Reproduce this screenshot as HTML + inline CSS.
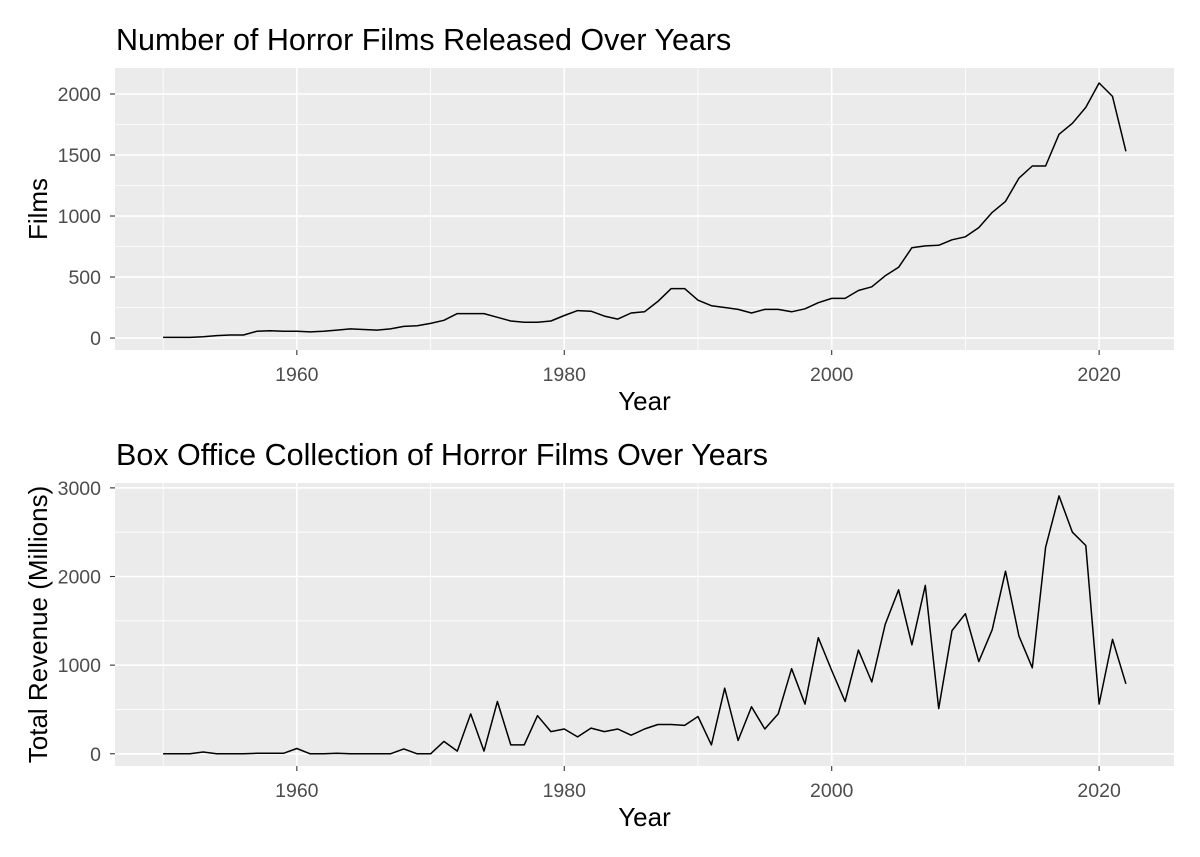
<!DOCTYPE html>
<html><head><meta charset="utf-8"><style>
body{margin:0;background:#fff;}
svg{display:block;font-family:"Liberation Sans",sans-serif;}
</style></head><body>
<svg id="c" width="1200" height="857"></svg>
<script>
const years=[];for(let y=1950;y<=2022;y++)years.push(y);
const films=[5,5,5,10,20,25,25,55,60,55,55,50,55,65,75,70,65,75,95,100,120,145,200,200,200,170,140,130,130,140,185,225,220,180,155,205,215,300,405,405,310,265,250,235,205,235,235,215,240,290,325,325,390,420,510,580,740,755,760,805,830,905,1030,1120,1310,1410,1410,1670,1760,1890,2090,1980,1530];
const revenue=[0,0,0,20,0,0,0,5,5,5,60,0,0,5,0,0,0,0,55,0,0,140,30,450,30,590,100,100,430,250,280,190,290,250,280,210,280,330,330,320,420,100,740,150,530,280,450,960,560,1310,940,590,1170,810,1460,1850,1230,1900,510,1390,1580,1040,1400,2060,1330,970,2330,2910,2500,2350,560,1290,790];
const xTicks=[1960,1980,2000,2020];
const filmTicks=[0,500,1000,1500,2000];
const revTicks=[0,1000,2000,3000];
const NS="http://www.w3.org/2000/svg";
const svg=document.getElementById('c');
function el(t,a,p){const e=document.createElementNS(NS,t);for(const k in a)e.setAttribute(k,a[k]);(p||svg).appendChild(e);return e;}
function panel(o){
  const {L,R,T,B,ymin,ymax,vals,ticks,title,ylab,name}=o;
  const g=el('g',{});
  
  
  const X=v=>L+(v-1946.4)/(2025.6-1946.4)*(R-L);
  const Y=v=>B-(v-ymin)/(ymax-ymin)*(B-T);
  const bg=el('rect',{x:L,y:T,width:R-L,height:B-T,fill:'#ebebeb'},g);
  
  for(let i=0;i<ticks.length-1;i++){const m=(ticks[i]+ticks[i+1])/2;el('line',{x1:L,x2:R,y1:Y(m),y2:Y(m),stroke:'#fff','stroke-width':0.8},g);}
  for(const m of [1950,1970,1990,2010])el('line',{x1:X(m),x2:X(m),y1:T,y2:B,stroke:'#fff','stroke-width':0.8},g);
  ticks.forEach(t=>{el('line',{x1:L,x2:R,y1:Y(t),y2:Y(t),stroke:'#fff','stroke-width':1.6},g);
    el('line',{x1:L-5,x2:L,y1:Y(t),y2:Y(t),stroke:'#333','stroke-width':1.1},g);
    const tx=el('text',{x:L-14,y:Y(t)+7,'text-anchor':'end','font-size':19.5,fill:'#4d4d4d'},g);tx.textContent=t;
    });
  xTicks.forEach(t=>{el('line',{x1:X(t),x2:X(t),y1:T,y2:B,stroke:'#fff','stroke-width':1.6},g);
    el('line',{x1:X(t),x2:X(t),y1:B,y2:B+5,stroke:'#333','stroke-width':1.1},g);
    const tx=el('text',{x:X(t),y:B+31,'text-anchor':'middle','font-size':19.5,fill:'#4d4d4d'},g);tx.textContent=t;
    });
  const d=vals.map((v,i)=>(i?'L':'M')+X(years[i]).toFixed(1)+','+Y(v).toFixed(1)).join('');
  const p=el('path',{d:d,fill:'none',stroke:'#000','stroke-width':1.5,'stroke-linejoin':'round'},g);
  
  const tt=el('text',{x:L+1,y:T-18,'font-size':30.5,fill:'#000'},g);tt.textContent=title;
  
  const xl=el('text',{x:(L+R)/2,y:B+60,'text-anchor':'middle','font-size':26,fill:'#000'},g);xl.textContent='Year';
  
  const cy=(T+B)/2;
  const yl=el('text',{x:47,y:cy,'text-anchor':'middle','font-size':26,fill:'#000',transform:`rotate(-90 47 ${cy})`},g);yl.textContent=ylab;
  
}
panel({L:115,R:1174,T:68,B:350,ymin:-98,ymax:2213,vals:films,ticks:filmTicks,title:'Number of Horror Films Released Over Years',ylab:'Films',name:'films-panel'});
panel({L:115,R:1174,T:483,B:766,ymin:-138,ymax:3055,vals:revenue,ticks:revTicks,title:'Box Office Collection of Horror Films Over Years',ylab:'Total Revenue (Millions)',name:'revenue-panel'});
</script>
</body></html>
